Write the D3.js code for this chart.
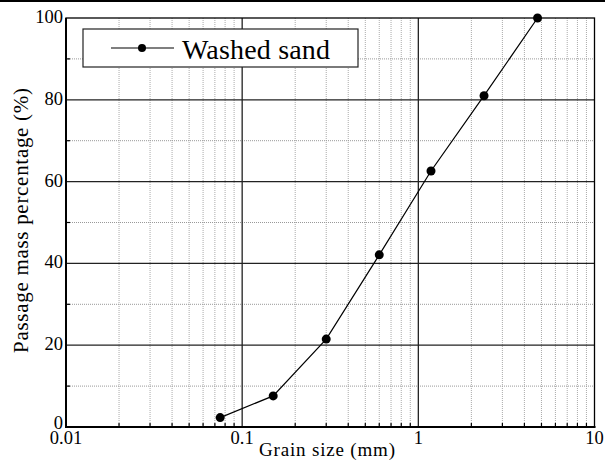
<!DOCTYPE html>
<html><head><meta charset="utf-8">
<script src="https://cdn.jsdelivr.net/npm/d3@7"></script>
<style>body{margin:0;background:#fff}svg{display:block}</style>
</head><body>
<svg id="c" width="605" height="461"></svg>
<script>
const grainSize = [0.075, 0.15, 0.3, 0.6, 1.18, 2.36, 4.75];
const passing = [2.3, 7.6, 21.5, 42.1, 62.6, 81.0, 100];
const xTicks = [0.01, 0.1, 1, 10];
const xTickLabels = ["0.01", "0.1", "1", "10"];
const yTicks = [0, 20, 40, 60, 80, 100];
const yMinor = [10, 30, 50, 70, 90];
const seriesName = "Washed sand";

const FONT = "Liberation Serif";
const svg = d3.select("#c");
const L = 66, R = 594.5, T = 18, B = 427;
const x = d3.scaleLog().domain([0.01, 10]).range([L, R]);
const y = d3.scaleLinear().domain([0, 100]).range([B, T]);

svg.append("rect").attr("x",0).attr("y",0).attr("width",605).attr("height",2).attr("fill","#000");

// minor x grid
const xMinor = [];
[0.01,0.1,1].forEach(d => { for (let k=2;k<=9;k++) xMinor.push(d*k); });
const g = svg.append("g");
g.selectAll(".xm").data(xMinor).enter().append("line")
  .attr("x1", d=>x(d)).attr("x2", d=>x(d)).attr("y1", T).attr("y2", B)
  .attr("stroke","#aaa").attr("stroke-width",1).attr("stroke-dasharray","1,1");
g.selectAll(".ym").data(yMinor).enter().append("line")
  .attr("x1", L).attr("x2", R).attr("y1", d=>y(d)).attr("y2", d=>y(d))
  .attr("stroke","#999").attr("stroke-width",1).attr("stroke-dasharray","1,1");
// major grid
g.selectAll(".xM").data([0.1,1]).enter().append("line")
  .attr("x1", d=>x(d)).attr("x2", d=>x(d)).attr("y1", T).attr("y2", B)
  .attr("stroke","#222").attr("stroke-width",1.3);
g.selectAll(".yM").data([20,40,60,80]).enter().append("line")
  .attr("x1", L).attr("x2", R).attr("y1", d=>y(d)).attr("y2", d=>y(d))
  .attr("stroke","#222").attr("stroke-width",1.3);

// ticks inward
g.selectAll(".xt").data(xMinor).enter().append("line")
  .attr("x1", d=>x(d)).attr("x2", d=>x(d)).attr("y1", B).attr("y2", B-4)
  .attr("stroke","#000").attr("stroke-width",1.2);
g.selectAll(".yt").data(yMinor).enter().append("line")
  .attr("x1", L).attr("x2", L+4).attr("y1", d=>y(d)).attr("y2", d=>y(d))
  .attr("stroke","#000").attr("stroke-width",1.2);

// frame
svg.append("rect").attr("x",L).attr("y",T).attr("width",R-L).attr("height",B-T)
  .attr("fill","none").attr("stroke","#000").attr("stroke-width",1.3);
svg.append("line").attr("x1",L).attr("x2",L).attr("y1",T).attr("y2",B+1).attr("stroke","#000").attr("stroke-width",2);
svg.append("line").attr("x1",L-1).attr("x2",R+1).attr("y1",B).attr("y2",B).attr("stroke","#000").attr("stroke-width",2);

// tick labels
svg.selectAll(".xl").data(xTicks).enter().append("text")
  .attr("font-family",FONT)
  .attr("x", d=>x(d)).attr("y", 444).attr("text-anchor","middle").attr("font-size",18.5)
  .text((d,i)=>xTickLabels[i]);
svg.selectAll(".yl").data(yTicks).enter().append("text")
  .attr("font-family",FONT)
  .attr("x", L-3).attr("y", d=> d===0 ? y(d)+2 : y(d)+5).attr("text-anchor","end").attr("font-size",18.5)
  .text(d=>d);

// axis titles
svg.append("text").attr("font-family",FONT).attr("x",327).attr("y",456).attr("text-anchor","middle").attr("font-size",19)
  .attr("textLength",136).text("Grain size (mm)");
svg.append("text").attr("font-family",FONT).attr("transform","translate(28,220.5) rotate(-90)").attr("text-anchor","middle")
  .attr("font-size",21).attr("textLength",265).text("Passage mass percentage (%)");

// series
const pts = grainSize.map((d,i)=>[d, passing[i]]);
svg.append("path").datum(pts)
  .attr("d", d3.line().x(d=>x(d[0])).y(d=>y(d[1])))
  .attr("fill","none").attr("stroke","#000").attr("stroke-width",1.2);
svg.selectAll(".pt").data(pts).enter().append("circle")
  .attr("cx", d=>x(d[0])).attr("cy", d=>y(d[1])).attr("r",4.5).attr("fill","#000");

// legend
const lg = svg.append("g");
lg.append("rect").attr("x",83).attr("y",29).attr("width",275).attr("height",38)
  .attr("fill","#fff").attr("stroke","#222").attr("stroke-width",1.2);
lg.append("line").attr("x1",111).attr("x2",174).attr("y1",48).attr("y2",48).attr("stroke","#000").attr("stroke-width",1.2);
lg.append("circle").attr("cx",142).attr("cy",48).attr("r",4).attr("fill","#000");
lg.append("text").attr("font-family",FONT).attr("x",182).attr("y",58.5).attr("font-size",28).attr("textLength",148).text(seriesName);
</script>
</body></html>
